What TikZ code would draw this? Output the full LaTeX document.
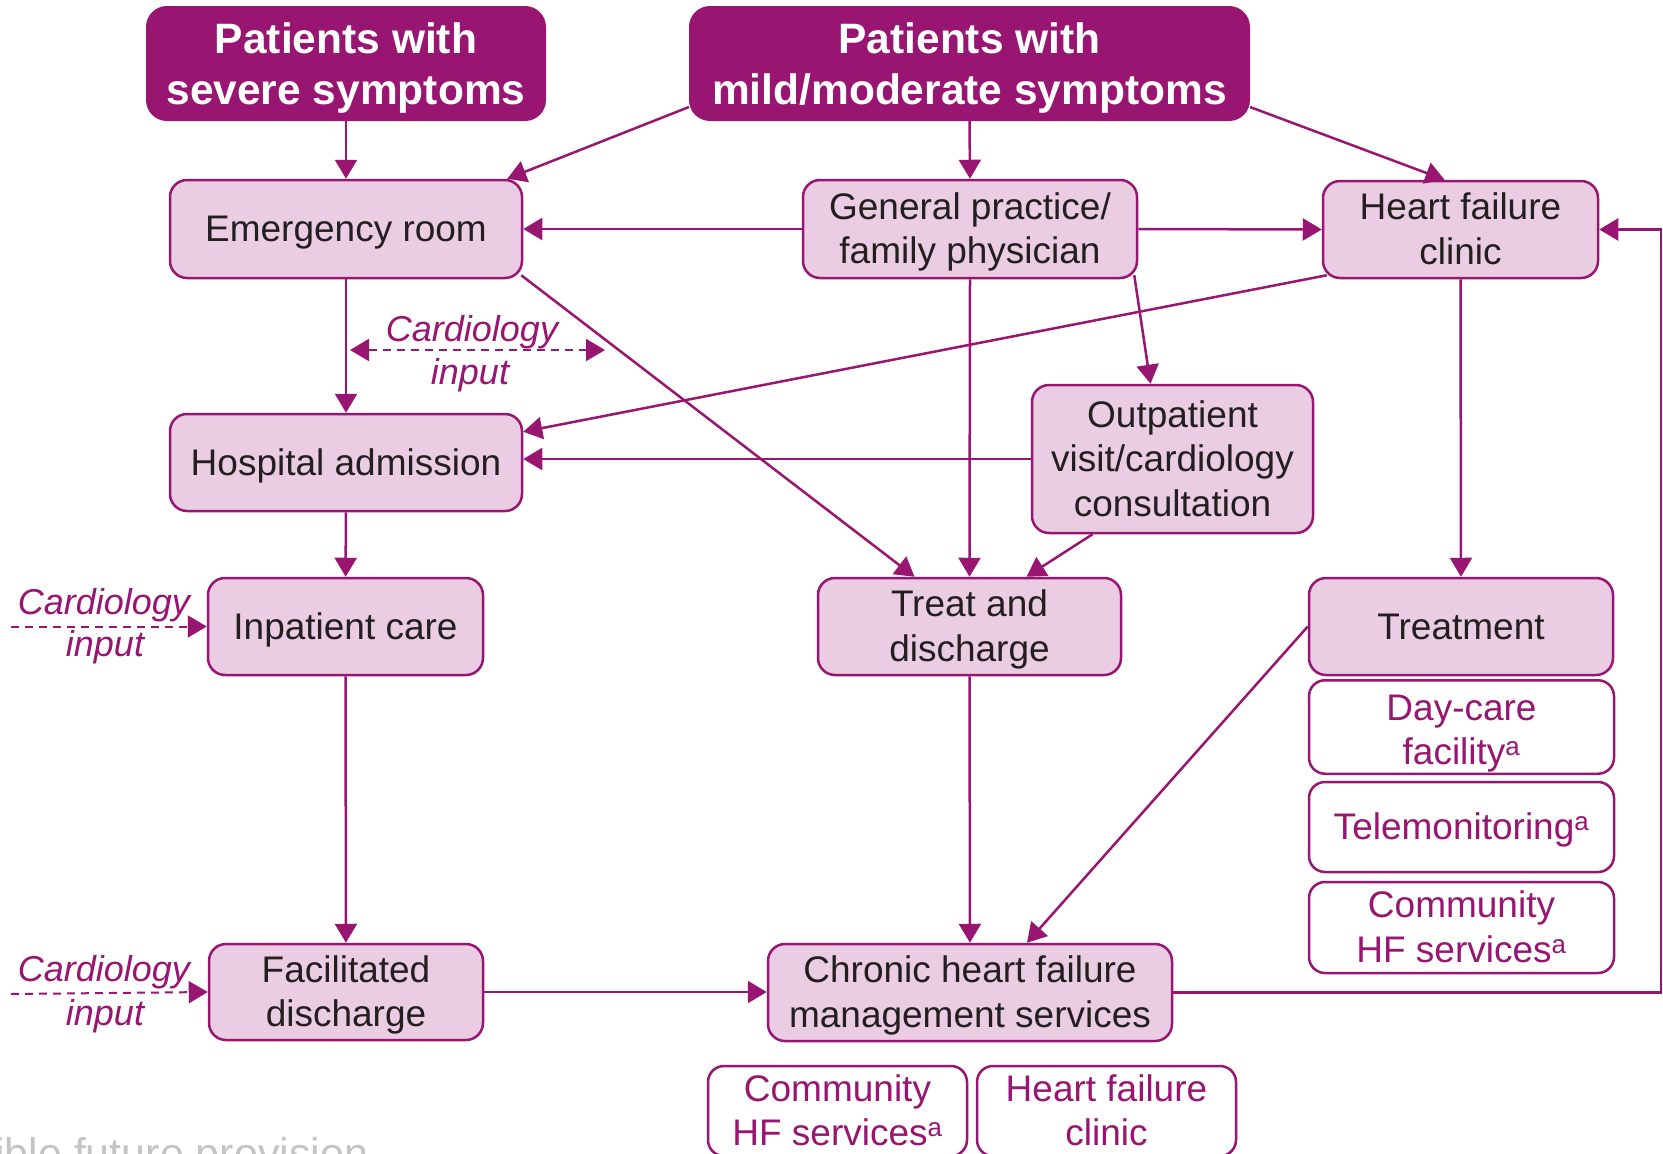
\documentclass[tikz,border=0pt]{standalone}
\usepackage{fontspec}
\setmainfont{Liberation Sans}
\usetikzlibrary{arrows.meta,calc}
\definecolor{mag}{HTML}{981572}
\definecolor{lightmag}{HTML}{EBCDE3}
\definecolor{txt}{HTML}{231F20}
\definecolor{graytxt}{HTML}{C4C4C4}
\newcommand{\supa}{\textsuperscript{a}}
\newcommand{\ts}{\rule{0pt}{34pt}}
\newcommand{\bs}{\rule[-9pt]{0pt}{0pt}}
\newcommand{\hts}{\rule{0pt}{40pt}}
\newcommand{\hbs}{\rule[-8pt]{0pt}{0pt}}
\begin{document}
\begin{tikzpicture}[x=1pt,y=-1pt,
  head/.style={draw=mag, fill=mag, rounded corners=20pt, line width=2pt, text=white,
    font=\fontsize{42.5}{51}\selectfont\bfseries, align=center, inner sep=0pt},
  box/.style={draw=mag, fill=lightmag, rounded corners=17pt, line width=2.5pt, text=txt,
    font=\fontsize{37}{44.5}\selectfont, align=center, inner sep=0pt},
  obox/.style={draw=mag, fill=white, rounded corners=16pt, line width=2.5pt, text=mag,
    font=\fontsize{37}{44.5}\selectfont, align=center, inner sep=0pt},
  conn/.style={draw=mag, line width=2.5pt, -{Triangle[length=19pt,width=22pt]}},
  dconn/.style={draw=mag, line width=2pt, dash pattern=on 8pt off 6pt},
  tipr/.style={-{Triangle[length=19pt,width=22pt]}},
  tiplr/.style={{Triangle[length=19pt,width=22pt]}-{Triangle[length=19pt,width=22pt]}},
  cardio/.style={text=mag, font=\fontsize{36}{41}\selectfont\itshape, inner sep=0pt, anchor=base},
]
\clip (0,0) rectangle (1663,1154);
\useasboundingbox (0,0) rectangle (1663,1154);
\fill[white] (0,0) rectangle (1663,1154);

% header boxes
\node[head, minimum width=398pt, minimum height=113pt] (sev) at (346,63.5) {\hts Patients with\\severe symptoms\hbs};
\node[head, minimum width=559pt, minimum height=113pt] (mild) at (969.5,63.5) {\hts Patients with\\mild/moderate symptoms\hbs};

% main boxes
\node[box, minimum width=352pt, minimum height=98pt] (er) at (346,229) {\ts Emergency room\bs};
\node[box, minimum width=334pt, minimum height=98pt] (gp) at (970,229) {\ts General practice/\\family physician\bs};
\node[box, minimum width=275pt, minimum height=97pt] (hfc) at (1460.5,229.5) {\ts Heart failure\\clinic\bs};
\node[box, minimum width=352pt, minimum height=97pt] (ha) at (346,462.5) {\ts Hospital admission\bs};
\node[box, minimum width=281pt, minimum height=148pt] (op) at (1172.5,459) {\ts Outpatient\\visit/cardiology\\consultation\bs};
\node[box, minimum width=275pt, minimum height=97pt] (ic) at (345.5,626.5) {\ts Inpatient care\bs};
\node[box, minimum width=303pt, minimum height=97pt] (td) at (969.5,626.5) {\ts Treat and\\discharge\bs};
\node[box, minimum width=304pt, minimum height=97pt] (tr) at (1461,626.5) {\ts Treatment\bs};
\node[box, minimum width=274pt, minimum height=96pt] (fd) at (346,992) {\ts Facilitated\\discharge\bs};
\node[box, minimum width=404pt, minimum height=97pt] (chf) at (970,992.5) {\ts Chronic heart failure\\management services\bs};

% outline boxes
\node[obox, minimum width=305pt, minimum height=90pt] (dc) at (1461.5,727) {\rule{0pt}{40pt}Day-care\\facility\supa\bs};
\node[obox, minimum width=305pt, minimum height=90pt] (tm) at (1461.5,827) {\ts Telemonitoring\supa\bs};
\node[obox, minimum width=305pt, minimum height=91pt] (chr) at (1461.5,927.5) {\ts Community\\HF services\supa\bs};
\node[obox, minimum width=259pt, minimum height=90pt] (cb) at (837.5,1111) {\ts Community\\HF services\supa\bs};
\node[obox, minimum width=259pt, minimum height=90pt] (hb) at (1106.5,1111) {\ts Heart failure\\clinic\bs};

% connectors
\draw[conn] (sev) -- (er);
\draw[conn] ([yshift=14pt]mild.south west) -- ([xshift=-16pt]er.north east);
\draw[conn] (mild.south) -- (gp.north);
\draw[conn] ([yshift=14pt]mild.south east) -- ([xshift=-16pt]hfc.north);
\draw[conn] (gp.west) -- (er.east);
\draw[conn] (gp.east) -- (hfc.west);
\draw[conn] (gp.south) -- (td.north);
\draw[conn] ([xshift=-4pt,yshift=4pt]gp.south east) -- ([xshift=-22pt]op.north);
\draw[conn] ([xshift=5pt,yshift=4pt]hfc.south west) -- ([yshift=-19pt]ha.north east);
\draw[conn] (hfc.south) -- (tr.north);
\draw[conn] (er) -- (ha);
\draw[conn] ([xshift=-2pt,yshift=4pt]er.south east) -- ([xshift=-55pt]td.north);
\draw[conn] (op.west) -- (op.west -| ha.east);
\draw[conn] ([xshift=-80pt]op.south) -- ([xshift=57pt]td.north);
\draw[conn] (ha) -- (ic);
\draw[conn] (ic) -- (fd);
\draw[conn] (td) -- (chf);
\draw[conn] (tr.west) -- ([xshift=57pt]chf.north);
\draw[conn] (fd.east) -- (fd.east -| chf.west);
\coordinate (rc) at (1661,0);
\draw[conn] (chf.east) -- (chf.east -| rc) -- (hfc.east -| rc) -- (hfc.east);

% cardiology inputs
\coordinate (c1a) at (350,350);
\coordinate (c1b) at (605,350);
\draw[dconn, tiplr] (c1a) -- (c1b);
\node[cardio] (c1t) at (472,341) {Cardiology};
\node[cardio] (c1i) at (470,384) {input};

\coordinate (c2a) at (11,626.5);
\draw[dconn, tipr] (c2a) -- (ic.west);
\node[cardio] (c2t) at (104,614) {Cardiology};
\node[cardio] (c2i) at (105,656) {input};

\coordinate (c3a) at (11,994);
\draw[dconn, tipr] (c3a) -- (fd.west);
\node[cardio] (c3t) at (104,981) {Cardiology};
\node[cardio] (c3i) at (105,1025) {input};

% cut-off footnote
\node[anchor=base west, inner sep=0pt, text=graytxt, font=\fontsize{43}{43}\selectfont] (fut) at (-5,1168) {ible future provision};
\end{tikzpicture}
\end{document}
